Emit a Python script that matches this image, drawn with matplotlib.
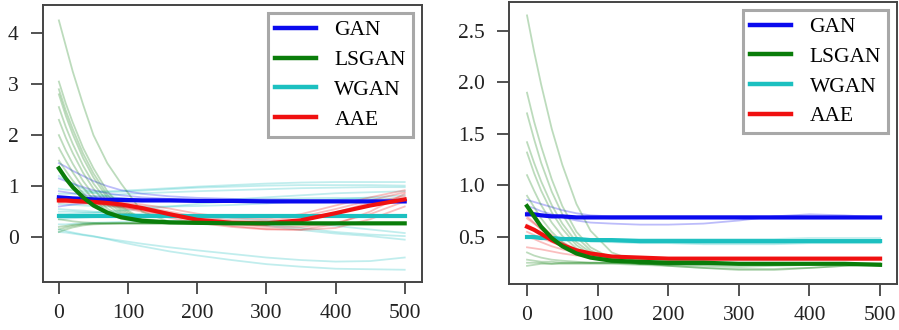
import matplotlib
matplotlib.use('Agg')
import matplotlib.pyplot as plt

plt.rcParams['font.family'] = ['Liberation Serif', 'DejaVu Serif']
plt.rcParams['font.size'] = 15.5

# common x grid (iterations)
X = [0, 10, 20, 35, 50, 70, 90, 120, 160, 200, 250, 300, 350, 400, 450, 500]

models = ['GAN', 'LSGAN', 'WGAN', 'AAE']
colors = {'GAN': '#0a0aee', 'LSGAN': '#0a7d0a', 'WGAN': '#1cc0c0', 'AAE': '#f01010'}

# ---- left panel ----
left_mean = {
    'GAN':   [0.78, 0.77, 0.76, 0.75, 0.74, 0.73, 0.73, 0.72, 0.72, 0.71, 0.71, 0.70, 0.70, 0.70, 0.70, 0.70],
    'LSGAN': [1.35, 1.15, 0.98, 0.78, 0.62, 0.48, 0.39, 0.32, 0.29, 0.28, 0.27, 0.27, 0.27, 0.27, 0.27, 0.27],
    'WGAN':  [0.41, 0.41, 0.41, 0.41, 0.41, 0.41, 0.41, 0.41, 0.41, 0.41, 0.41, 0.41, 0.41, 0.41, 0.41, 0.41],
    'AAE':   [0.72, 0.72, 0.71, 0.70, 0.69, 0.67, 0.64, 0.57, 0.45, 0.34, 0.28, 0.27, 0.33, 0.47, 0.62, 0.74],
}
left_gan_runs = [
    [1.45, 1.38, 1.30, 1.20, 1.10, 1.00, 0.92, 0.85, 0.80, 0.77, 0.75, 0.74, 0.73, 0.72, 0.72, 0.72],
    [1.15, 1.10, 1.05, 0.98, 0.92, 0.86, 0.82, 0.78, 0.75, 0.73, 0.72, 0.71, 0.71, 0.71, 0.71, 0.71],
    [0.60, 0.62, 0.64, 0.66, 0.68, 0.69, 0.70, 0.70, 0.70, 0.70, 0.70, 0.70, 0.70, 0.70, 0.70, 0.70],
    [0.90, 0.88, 0.86, 0.83, 0.80, 0.78, 0.76, 0.74, 0.73, 0.72, 0.72, 0.71, 0.71, 0.70, 0.70, 0.69],
]
left_lsgan_runs = [
    [4.25, 3.75, 3.25, 2.60, 2.00, 1.45, 1.05, 0.50, 0.30, 0.28, 0.27, 0.27, 0.27, 0.27, 0.27, 0.27],
    [3.05, 2.62, 2.25, 1.75, 1.35, 0.90, 0.60, 0.36, 0.29, 0.28, 0.27, 0.27, 0.27, 0.27, 0.27, 0.27],
    [2.90, 2.48, 2.12, 1.64, 1.25, 0.83, 0.56, 0.34, 0.29, 0.28, 0.27, 0.27, 0.27, 0.27, 0.27, 0.27],
    [2.80, 2.38, 2.02, 1.55, 1.17, 0.77, 0.52, 0.33, 0.28, 0.27, 0.27, 0.27, 0.27, 0.27, 0.27, 0.27],
    [2.55, 2.16, 1.83, 1.40, 1.05, 0.70, 0.48, 0.32, 0.28, 0.27, 0.27, 0.27, 0.27, 0.27, 0.27, 0.27],
    [2.30, 1.95, 1.65, 1.26, 0.95, 0.63, 0.44, 0.31, 0.28, 0.27, 0.27, 0.27, 0.27, 0.27, 0.27, 0.27],
    [2.00, 1.70, 1.44, 1.10, 0.83, 0.56, 0.40, 0.30, 0.28, 0.27, 0.27, 0.27, 0.27, 0.27, 0.27, 0.27],
    [1.75, 1.50, 1.27, 0.97, 0.74, 0.51, 0.38, 0.30, 0.28, 0.27, 0.27, 0.27, 0.27, 0.27, 0.27, 0.27],
    [1.50, 1.30, 1.11, 0.86, 0.66, 0.47, 0.36, 0.29, 0.27, 0.27, 0.27, 0.27, 0.27, 0.27, 0.27, 0.27],
    [0.10, 0.15, 0.19, 0.23, 0.25, 0.26, 0.27, 0.27, 0.27, 0.27, 0.27, 0.27, 0.27, 0.27, 0.27, 0.27],
    [0.20, 0.22, 0.24, 0.26, 0.27, 0.27, 0.27, 0.27, 0.27, 0.27, 0.27, 0.27, 0.27, 0.27, 0.27, 0.27],
    [0.35, 0.33, 0.31, 0.29, 0.28, 0.27, 0.27, 0.27, 0.27, 0.27, 0.27, 0.27, 0.27, 0.27, 0.27, 0.27],
    [0.15, 0.19, 0.22, 0.25, 0.26, 0.27, 0.27, 0.27, 0.27, 0.27, 0.27, 0.27, 0.27, 0.27, 0.27, 0.27],
]
left_wgan_runs = [
    [0.95, 0.93, 0.92, 0.90, 0.90, 0.90, 0.91, 0.93, 0.96, 0.99, 1.02, 1.05, 1.07, 1.08, 1.08, 1.08],
    [0.85, 0.85, 0.85, 0.86, 0.87, 0.88, 0.89, 0.91, 0.94, 0.97, 0.99, 1.01, 1.02, 1.02, 1.02, 1.01],
    [0.75, 0.76, 0.77, 0.78, 0.80, 0.82, 0.84, 0.86, 0.88, 0.90, 0.92, 0.94, 0.96, 0.97, 0.98, 0.98],
    [0.15, 0.12, 0.09, 0.05, 0.02, -0.04, -0.10, -0.18, -0.28, -0.36, -0.45, -0.53, -0.58, -0.62, -0.63, -0.64],
    [0.10, 0.09, 0.07, 0.04, 0.01, -0.03, -0.07, -0.13, -0.20, -0.26, -0.33, -0.40, -0.45, -0.48, -0.47, -0.40],
    [0.55, 0.54, 0.53, 0.52, 0.50, 0.48, 0.46, 0.43, 0.40, 0.36, 0.30, 0.22, 0.14, 0.07, 0.02, -0.05],
    [0.35, 0.36, 0.37, 0.38, 0.39, 0.40, 0.40, 0.40, 0.40, 0.39, 0.37, 0.33, 0.28, 0.22, 0.15, 0.08],
    [0.65, 0.64, 0.63, 0.62, 0.61, 0.60, 0.60, 0.60, 0.60, 0.61, 0.63, 0.66, 0.70, 0.74, 0.78, 0.82],
    [0.45, 0.45, 0.46, 0.47, 0.48, 0.50, 0.52, 0.55, 0.60, 0.65, 0.70, 0.74, 0.76, 0.77, 0.76, 0.75],
    [0.25, 0.25, 0.26, 0.27, 0.28, 0.29, 0.30, 0.31, 0.32, 0.32, 0.30, 0.25, 0.18, 0.10, 0.05, 0.02],
    [1.20, 1.12, 1.05, 0.95, 0.87, 0.80, 0.76, 0.73, 0.72, 0.72, 0.74, 0.78, 0.82, 0.86, 0.88, 0.90],
    [0.50, 0.50, 0.50, 0.49, 0.48, 0.47, 0.46, 0.45, 0.44, 0.43, 0.42, 0.41, 0.40, 0.40, 0.41, 0.42],
]
left_aae_runs = [
    [0.70, 0.70, 0.69, 0.68, 0.66, 0.63, 0.60, 0.53, 0.42, 0.32, 0.22, 0.16, 0.15, 0.25, 0.50, 0.85],
    [0.75, 0.74, 0.73, 0.72, 0.70, 0.68, 0.66, 0.60, 0.50, 0.40, 0.33, 0.32, 0.40, 0.55, 0.72, 0.88],
    [0.68, 0.68, 0.67, 0.66, 0.65, 0.62, 0.58, 0.50, 0.38, 0.28, 0.20, 0.15, 0.14, 0.18, 0.35, 0.60],
    [0.74, 0.74, 0.73, 0.72, 0.71, 0.70, 0.68, 0.64, 0.56, 0.46, 0.38, 0.36, 0.45, 0.62, 0.78, 0.92],
    [0.70, 0.70, 0.70, 0.69, 0.68, 0.66, 0.63, 0.58, 0.47, 0.36, 0.26, 0.20, 0.20, 0.28, 0.45, 0.70],
    [0.72, 0.71, 0.70, 0.69, 0.67, 0.64, 0.60, 0.53, 0.43, 0.33, 0.26, 0.24, 0.30, 0.48, 0.68, 0.80],
]

# ---- right panel ----
right_mean = {
    'GAN':   [0.72, 0.72, 0.71, 0.70, 0.70, 0.69, 0.69, 0.69, 0.69, 0.69, 0.69, 0.69, 0.69, 0.69, 0.69, 0.69],
    'LSGAN': [0.80, 0.70, 0.60, 0.49, 0.41, 0.34, 0.30, 0.27, 0.26, 0.25, 0.25, 0.24, 0.24, 0.24, 0.24, 0.23],
    'WGAN':  [0.50, 0.50, 0.49, 0.49, 0.48, 0.48, 0.47, 0.47, 0.46, 0.46, 0.46, 0.46, 0.46, 0.46, 0.46, 0.46],
    'AAE':   [0.60, 0.57, 0.53, 0.47, 0.42, 0.37, 0.34, 0.31, 0.30, 0.29, 0.29, 0.29, 0.29, 0.29, 0.29, 0.29],
}
right_gan_runs = [
    [0.86, 0.84, 0.82, 0.79, 0.76, 0.73, 0.71, 0.70, 0.70, 0.70, 0.70, 0.70, 0.70, 0.70, 0.69, 0.69],
    [0.80, 0.78, 0.75, 0.72, 0.69, 0.66, 0.64, 0.63, 0.62, 0.62, 0.63, 0.66, 0.70, 0.72, 0.71, 0.69],
    [0.74, 0.73, 0.72, 0.71, 0.70, 0.69, 0.69, 0.68, 0.68, 0.68, 0.68, 0.68, 0.68, 0.68, 0.68, 0.68],
]
right_lsgan_runs = [
    [2.65, 2.30, 1.98, 1.55, 1.20, 0.82, 0.56, 0.35, 0.25, 0.22, 0.20, 0.19, 0.19, 0.20, 0.22, 0.24],
    [1.90, 1.62, 1.38, 1.06, 0.80, 0.55, 0.40, 0.29, 0.24, 0.23, 0.22, 0.21, 0.22, 0.23, 0.24, 0.24],
    [1.70, 1.45, 1.22, 0.94, 0.72, 0.50, 0.37, 0.28, 0.24, 0.23, 0.23, 0.23, 0.23, 0.24, 0.24, 0.24],
    [1.42, 1.22, 1.04, 0.81, 0.63, 0.45, 0.35, 0.28, 0.25, 0.24, 0.24, 0.24, 0.24, 0.24, 0.24, 0.24],
    [1.32, 1.12, 0.95, 0.74, 0.58, 0.42, 0.33, 0.27, 0.25, 0.24, 0.24, 0.24, 0.24, 0.24, 0.24, 0.24],
    [1.10, 0.95, 0.81, 0.64, 0.51, 0.39, 0.31, 0.27, 0.25, 0.24, 0.24, 0.24, 0.24, 0.24, 0.24, 0.24],
    [0.90, 0.79, 0.68, 0.55, 0.45, 0.36, 0.30, 0.26, 0.24, 0.24, 0.24, 0.24, 0.24, 0.24, 0.24, 0.24],
    [0.28, 0.27, 0.26, 0.26, 0.25, 0.25, 0.25, 0.25, 0.24, 0.24, 0.24, 0.24, 0.24, 0.24, 0.24, 0.24],
    [0.22, 0.23, 0.24, 0.24, 0.25, 0.25, 0.25, 0.25, 0.25, 0.24, 0.24, 0.24, 0.24, 0.24, 0.24, 0.23],
    [0.35, 0.32, 0.30, 0.28, 0.27, 0.26, 0.25, 0.25, 0.24, 0.24, 0.24, 0.24, 0.24, 0.24, 0.24, 0.24],
    [0.25, 0.25, 0.25, 0.24, 0.24, 0.24, 0.24, 0.24, 0.23, 0.22, 0.20, 0.18, 0.18, 0.20, 0.22, 0.23],
]
right_wgan_runs = [
    [0.50, 0.50, 0.50, 0.49, 0.49, 0.48, 0.48, 0.47, 0.46, 0.45, 0.44, 0.44, 0.44, 0.45, 0.46, 0.47],
    [0.49, 0.49, 0.48, 0.48, 0.47, 0.47, 0.46, 0.46, 0.45, 0.45, 0.45, 0.45, 0.45, 0.45, 0.45, 0.45],
    [0.51, 0.51, 0.50, 0.50, 0.49, 0.49, 0.48, 0.48, 0.48, 0.48, 0.48, 0.48, 0.48, 0.49, 0.49, 0.49],
    [0.50, 0.49, 0.49, 0.48, 0.47, 0.46, 0.46, 0.45, 0.44, 0.44, 0.43, 0.43, 0.43, 0.44, 0.44, 0.44],
]
right_aae_runs = [
    [0.75, 0.68, 0.61, 0.52, 0.45, 0.38, 0.34, 0.31, 0.30, 0.29, 0.29, 0.29, 0.29, 0.29, 0.29, 0.29],
    [0.68, 0.63, 0.58, 0.50, 0.44, 0.37, 0.33, 0.31, 0.30, 0.29, 0.29, 0.29, 0.29, 0.29, 0.29, 0.29],
    [0.50, 0.48, 0.45, 0.41, 0.38, 0.35, 0.33, 0.31, 0.30, 0.29, 0.29, 0.29, 0.29, 0.29, 0.29, 0.29],
    [0.40, 0.39, 0.38, 0.36, 0.34, 0.32, 0.31, 0.30, 0.29, 0.29, 0.29, 0.29, 0.29, 0.29, 0.29, 0.29],
    [0.62, 0.58, 0.54, 0.48, 0.43, 0.38, 0.35, 0.32, 0.30, 0.29, 0.29, 0.29, 0.29, 0.29, 0.29, 0.29],
    [0.55, 0.52, 0.49, 0.45, 0.41, 0.37, 0.34, 0.31, 0.30, 0.29, 0.29, 0.29, 0.29, 0.29, 0.29, 0.29],
    [0.70, 0.64, 0.57, 0.49, 0.43, 0.36, 0.33, 0.31, 0.30, 0.29, 0.29, 0.29, 0.29, 0.29, 0.29, 0.29],
]

left_runs = {'GAN': left_gan_runs, 'LSGAN': left_lsgan_runs, 'WGAN': left_wgan_runs, 'AAE': left_aae_runs}
right_runs = {'GAN': right_gan_runs, 'LSGAN': right_lsgan_runs, 'WGAN': right_wgan_runs, 'AAE': right_aae_runs}

fig = plt.figure(figsize=(8.99, 3.30), dpi=100)
ax1 = fig.add_axes([0.0478, 0.1455, 0.4216, 0.839])
ax2 = fig.add_axes([0.5662, 0.1394, 0.4316, 0.8545])


def draw(ax, runs, mean, xlim, ylim, yticks, ylabels, leg_anchor):
    for m in ['WGAN', 'GAN', 'AAE', 'LSGAN']:
        for r in runs[m]:
            ax.plot(X, r, color=colors[m], lw=1.3, alpha=0.27)
    handles = {}
    for m in ['WGAN', 'GAN', 'AAE', 'LSGAN']:
        handles[m], = ax.plot(X, mean[m], color=colors[m], lw=3.0, label=m)
    ax.set_xlim(*xlim)
    ax.set_ylim(*ylim)
    ax.set_xticks([0, 100, 200, 300, 400, 500])
    ax.set_yticks(yticks)
    ax.set_yticklabels(ylabels)
    ax.tick_params(direction='out', length=8.5, width=1.3, color='#444444',
                   labelcolor='#222222', labelsize=15.5)
    ax.tick_params(axis='x', pad=7)
    ax.tick_params(axis='y', pad=9)
    for s in ax.spines.values():
        s.set_color('#444444')
        s.set_linewidth(1.4)
    leg = ax.legend([handles[m] for m in models], models, loc='upper right',
                    bbox_to_anchor=leg_anchor, fontsize=15.5, handlelength=1.9,
                    handletextpad=0.85, labelspacing=0.45, borderpad=0.33,
                    borderaxespad=0, fancybox=False, framealpha=1)
    leg.get_frame().set_edgecolor('#a8a8a8')
    leg.get_frame().set_linewidth(2.2)
    for h in leg.get_lines():
        h.set_linewidth(3.2)


draw(ax1, left_runs, left_mean, (-23, 525), (-0.88, 4.55),
     [0, 1, 2, 3, 4], ['0', '1', '2', '3', '4'], (0.976, 0.971))
draw(ax2, right_runs, right_mean, (-25.5, 524), (0.044, 2.78),
     [0.5, 1.0, 1.5, 2.0, 2.5], ['0.5', '1.0', '1.5', '2.0', '2.5'], (0.977, 0.972))

fig.savefig('out.png', dpi=100)
